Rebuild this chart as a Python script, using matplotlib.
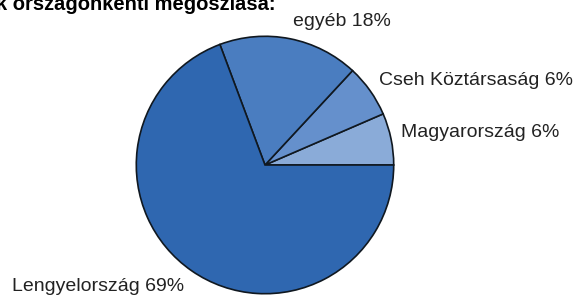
import matplotlib
matplotlib.use("Agg")
import matplotlib.pyplot as plt

# Data (counter-clockwise from 3 o'clock)
categories = ["Magyarország", "Cseh Köztársaság", "egyéb", "Lengyelország"]
values = [6.5, 6.6, 17.6, 69.3]
pct_labels = ["6%", "6%", "18%", "69%"]
title_text = "k országonkénti megoszlása:"

colors = ["#8AABD8", "#6590CC", "#4A7DC0", "#2F67B0"]
# label anchor positions in pixels (left x, baseline y from top)
label_pos = [(401, 137), (379, 85), (293, 26), (12, 291)]

W, H = 579, 295
dpi = 100
fig = plt.figure(figsize=(W / dpi, H / dpi), dpi=dpi)
fig.patch.set_facecolor("white")

cx, cy, r = 265, 165, 130
ax = fig.add_axes([(cx - r) / W, (H - cy - r) / H, 2 * r / W, 2 * r / H])
ax.pie(values, colors=colors, startangle=0, counterclock=True, radius=1,
       wedgeprops=dict(edgecolor="#101820", linewidth=1.2))
ax.set_xlim(-1.01, 1.01)
ax.set_ylim(-1.01, 1.01)
ax.set_aspect("equal")
ax.axis("off")

for cat, pct, (x, y) in zip(categories, pct_labels, label_pos):
    fig.text(x / W, 1 - y / H, f"{cat} {pct}", ha="left", va="baseline",
             fontsize=14, family="Liberation Sans", color="#222222")

fig.text(276 / W, 1 - 10.5 / H, title_text, ha="right", va="baseline",
         fontsize=14.5, fontweight="bold", family="Liberation Sans", color="black")

fig.savefig("out.png", dpi=dpi, facecolor="white")
